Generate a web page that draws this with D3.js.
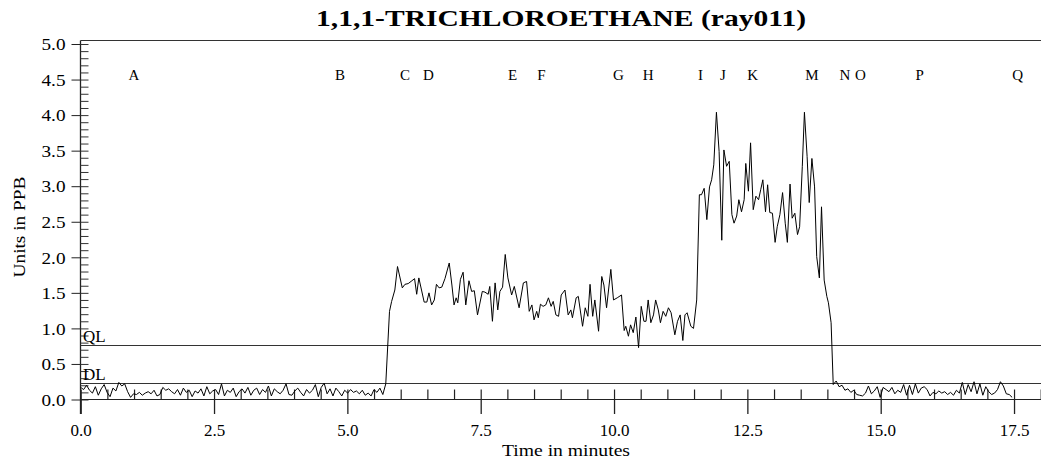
<!DOCTYPE html>
<html>
<head>
<meta charset="utf-8">
<script src="https://cdnjs.cloudflare.com/ajax/libs/d3/7.8.5/d3.min.js"></script>
<style>
  html, body { margin: 0; padding: 0; background: #fff; }
  svg { display: block; }
  text { font-family: "Liberation Serif", "Times New Roman", serif; fill: #000; }
</style>
</head>
<body>
<svg id="chart" width="1041" height="464"></svg>
<script>
// ---------- data ----------
const chartTitle = "1,1,1-TRICHLOROETHANE (ray011)";
const xLabel = "Time in minutes";
const yLabel = "Units in PPB";

const xMajorTicks = [0, 2.5, 5, 7.5, 10, 12.5, 15, 17.5];
const yMajorTicks = [0, 0.5, 1, 1.5, 2, 2.5, 3, 3.5, 4, 4.5, 5];

const qlValue = 0.76;
const dlValue = 0.23;

const markerLetters = ["A","B","C","D","E","F","G","H","I","J","K","M","N","O","P","Q"];
const markerTimes   = [1.00,4.86,6.08,6.52,8.10,8.64,10.08,10.64,11.62,12.04,12.60,13.71,14.33,14.62,15.73,17.57];

// baseline before the plume (sampled every baseStep minutes from 0)
const baseStep = 0.055;
const base1Start = 0;
const base1Values = [
  0.17,0.14,0.20,0.13,0.09,0.18,0.06,0.15,0.21,0.10,0.04,0.16,0.12,0.24,0.19,0.22,0.11,0.03,0.08,0.07,
  0.10,0.06,0.09,0.11,0.08,0.13,0.05,0.07,0.17,0.13,0.15,0.11,0.08,0.14,0.06,0.16,0.10,0.13,0.04,0.12,
  0.09,0.15,0.05,0.18,0.08,0.12,0.14,0.07,0.22,0.05,0.13,0.10,0.16,0.04,0.11,0.15,0.09,0.17,0.06,0.13,
  0.16,0.07,0.14,0.10,0.19,0.05,0.15,0.11,0.08,0.13,0.22,0.07,0.06,0.12,0.16,0.10,0.05,0.14,0.09,0.13,
  0.21,0.04,0.17,0.23,0.08,0.15,0.05,0.16,0.11,0.05,0.13,0.09,0.14,0.10,0.12,0.08,0.13,0.06,0.09,0.05,
  0.14,0.10,0.16,0.07,0.22
];

// plume section (read point by point)
const plumeTimes = [
  5.79,5.83,5.89,5.94,6.03,6.08,6.14,6.21,6.26,6.30,6.34,6.39,6.44,6.49,6.53,6.58,6.63,6.67,6.72,6.77,
  6.83,6.91,6.96,7.00,7.04,7.07,7.12,7.17,7.22,7.28,7.33,7.38,7.44,7.53,7.58,7.64,7.67,7.72,7.77,7.82,
  7.86,7.91,7.96,8.01,8.08,8.13,8.22,8.30,8.36,8.41,8.46,8.50,8.55,8.58,8.62,8.67,8.72,8.77,8.82,8.86,
  8.91,8.96,9.01,9.08,9.14,9.19,9.22,9.29,9.33,9.41,9.46,9.51,9.55,9.60,9.64,9.71,9.77,9.81,9.86,9.94,
  9.99,10.06,10.14,10.19,10.22,10.27,10.31,10.36,10.41,10.46,10.51,10.56,10.60,10.64,10.69,10.74,10.78,10.83,10.87,10.92,
  10.97,11.02,11.07,11.14,11.19,11.24,11.29,11.33,11.37,11.44,11.49,11.55,11.60,11.64,11.69,11.74,11.79,11.83,11.87,11.92,
  11.97,12.02,12.06,12.11,12.16,12.21,12.25,12.30,12.34,12.39,12.44,12.47,12.52,12.56,12.61,12.66,12.71,12.75,12.79,12.84,
  12.88,12.92,12.97,13.02,13.06,13.11,13.16,13.21,13.25,13.30,13.34,13.39,13.44,13.48,13.53,13.57,13.62,13.66,13.71,13.76,
  13.80,13.85,13.89,13.94,13.99,14.02,14.07
];
const plumeValues = [
  1.24,1.38,1.54,1.87,1.57,1.62,1.63,1.67,1.70,1.48,1.71,1.54,1.37,1.37,1.50,1.33,1.40,1.62,1.57,1.58,
  1.70,1.92,1.61,1.33,1.43,1.36,1.69,1.79,1.33,1.67,1.52,1.53,1.19,1.52,1.51,1.48,1.59,1.10,1.64,1.26,
  1.52,1.58,2.04,1.71,1.47,1.59,1.29,1.64,1.66,1.24,1.33,1.12,1.24,1.15,1.34,1.31,1.33,1.43,1.31,1.38,
  1.19,1.17,1.47,1.54,1.19,1.26,1.15,1.43,1.45,1.03,1.29,1.17,1.62,1.17,1.40,0.96,1.73,1.61,1.29,1.83,
  1.40,1.43,1.47,0.97,1.03,0.89,1.05,0.94,1.16,0.73,1.31,1.10,1.10,1.40,1.08,1.19,1.40,1.26,1.08,1.24,
  1.17,1.29,1.22,0.91,1.10,1.19,0.83,1.19,1.22,1.03,1.00,1.40,2.88,2.88,2.97,2.53,2.99,3.09,3.30,4.04,
  3.49,2.24,3.51,3.28,3.35,2.60,2.48,2.58,2.81,2.64,2.81,3.32,2.93,3.61,2.67,2.86,2.81,2.95,3.09,2.64,
  3.02,2.63,2.62,2.21,2.43,2.60,2.91,2.48,2.21,3.03,2.55,2.62,2.32,2.43,3.28,4.04,3.42,2.77,3.39,2.99,
  2.01,1.71,2.71,1.68,1.45,1.36,1.08
];

// baseline after the plume (sampled every baseStep minutes from base2Start)
const base2Start = 14.11;
const base2Values = [
  0.21,0.26,0.18,0.20,0.13,0.15,0.10,0.13,0.07,0.06,0.05,0.09,0.19,0.08,0.12,0.18,0.03,0.17,0.14,0.11,
  0.17,0.08,0.13,0.10,0.21,0.06,0.20,0.07,0.22,0.09,0.16,0.18,0.14,0.05,0.10,0.08,0.12,0.09,0.11,0.07,
  0.10,0.06,0.13,0.09,0.24,0.07,0.21,0.11,0.25,0.08,0.22,0.06,0.18,0.11,0.07,0.09,0.14,0.25,0.19,0.08,
  0.07,0.03
];

// ---------- build series ----------
const series = [];
base1Values.forEach((v, i) => series.push([base1Start + i * baseStep, v]));
plumeTimes.forEach((t, i) => series.push([t, plumeValues[i]]));
base2Values.forEach((v, i) => series.push([base2Start + i * baseStep, v]));

// ---------- drawing ----------
const svg = d3.select("#chart");
const x = d3.scaleLinear().domain([0, 18]).range([80.7, 1040.7]);
const y = d3.scaleLinear().domain([0, 5]).range([399.5, 44]);
const axisX = 80.5, axisY = 399.5, topY = 40.5;

// title
svg.append("text")
  .attr("x", 561).attr("y", 26)
  .attr("text-anchor", "middle")
  .attr("textLength", 490).attr("lengthAdjust", "spacingAndGlyphs")
  .style("font-size", "23px").style("font-weight", "bold")
  .text(chartTitle);

// top frame line
svg.append("line")
  .attr("x1", axisX).attr("x2", 1041).attr("y1", topY).attr("y2", topY)
  .attr("stroke", "#333").attr("stroke-width", 1);

// y axis line
svg.append("line")
  .attr("x1", axisX).attr("x2", axisX).attr("y1", topY).attr("y2", 414)
  .attr("stroke", "#222").attr("stroke-width", 1.3);

// y major ticks + labels
const yAxisG = svg.append("g").attr("transform", `translate(${axisX},0)`)
  .call(d3.axisLeft(y).tickValues(yMajorTicks).tickFormat(d3.format(".1f"))
    .tickSizeInner(9).tickSizeOuter(0).tickPadding(6));
yAxisG.select(".domain").remove();
yAxisG.selectAll("line").attr("stroke", "#222");
yAxisG.selectAll("text").style("font-size", "17px").style("font-family", "Liberation Serif, serif")
  .attr("dy", "0.34em")
  .attr("textLength", 24).attr("lengthAdjust", "spacingAndGlyphs");

// y minor ticks (inside)
const yMinor = d3.range(0, 51).map(d => d / 10);
const yMinorG = svg.append("g").attr("transform", `translate(${axisX},0)`)
  .call(d3.axisRight(y).tickValues(yMinor).tickFormat("").tickSizeInner(8).tickSizeOuter(0));
yMinorG.select(".domain").remove();
yMinorG.selectAll("line").attr("stroke", "#333");

// x axis line
svg.append("line")
  .attr("x1", axisX).attr("x2", 1041).attr("y1", axisY).attr("y2", axisY)
  .attr("stroke", "#222").attr("stroke-width", 1);

// x major ticks + labels
const xAxisG = svg.append("g").attr("transform", `translate(0,${axisY})`)
  .call(d3.axisBottom(x).tickValues(xMajorTicks).tickFormat(d3.format(".1f"))
    .tickSizeInner(14.5).tickSizeOuter(0));
xAxisG.select(".domain").remove();
xAxisG.selectAll("line").attr("stroke", "#222").attr("stroke-width", 1.3);
xAxisG.selectAll("text").style("font-size", "17px").style("font-family", "Liberation Serif, serif")
  .attr("y", 36).attr("dy", "0");

// x minor ticks (inside, every 0.5)
const xMinor = d3.range(0, 37).map(d => d / 2);
const xMinorG = svg.append("g").attr("transform", `translate(0,${axisY})`)
  .call(d3.axisTop(x).tickValues(xMinor).tickFormat("").tickSizeInner(10).tickSizeOuter(0));
xMinorG.select(".domain").remove();
xMinorG.selectAll("line").attr("stroke", "#222").attr("stroke-width", 1.2);

// axis titles
svg.append("text")
  .attr("x", 566).attr("y", 456)
  .attr("text-anchor", "middle")
  .attr("textLength", 128).attr("lengthAdjust", "spacingAndGlyphs")
  .style("font-size", "16px")
  .text(xLabel);
svg.append("text")
  .attr("transform", "translate(25,227) rotate(-90)")
  .attr("text-anchor", "middle")
  .attr("textLength", 101).attr("lengthAdjust", "spacingAndGlyphs")
  .style("font-size", "17px")
  .text(yLabel);

// QL / DL lines
[[qlValue, "QL"], [dlValue, "DL"]].forEach(([v, lab]) => {
  svg.append("line")
    .attr("x1", axisX).attr("x2", 1041)
    .attr("y1", Math.round(y(v)) + 0.5).attr("y2", Math.round(y(v)) + 0.5)
    .attr("stroke", "#333").attr("stroke-width", 1);
  svg.append("text")
    .attr("x", 83).attr("y", Math.round(y(v)) - 3)
    .style("font-size", "17px")
    .text(lab);
});

// marker letters
svg.append("g").selectAll("text")
  .data(markerLetters)
  .join("text")
  .attr("x", (d, i) => x(markerTimes[i]))
  .attr("y", 80)
  .attr("text-anchor", "middle")
  .style("font-size", "15px")
  .text(d => d);

// data line
const line = d3.line().x(d => x(d[0])).y(d => y(d[1]));
svg.append("path")
  .datum(series)
  .attr("d", line)
  .attr("fill", "none")
  .attr("stroke", "#000")
  .attr("stroke-width", 1)
  .attr("stroke-linejoin", "miter");
</script>
</body>
</html>
